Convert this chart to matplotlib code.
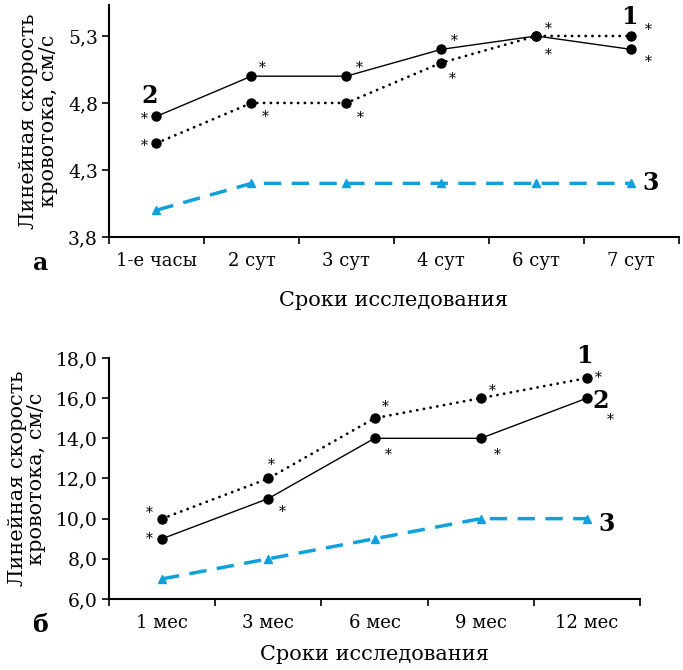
import matplotlib
matplotlib.use('Agg')
import matplotlib.pyplot as plt

plt.rcParams['font.family'] = ['DejaVu Serif']

# panel a data
cats_a = ['1-е часы', '2 сут', '3 сут', '4 сут', '6 сут', '7 сут']
s1_a = [4.5, 4.8, 4.8, 5.1, 5.3, 5.3]
s2_a = [4.7, 5.0, 5.0, 5.2, 5.3, 5.2]
s3_a = [4.0, 4.2, 4.2, 4.2, 4.2, 4.2]
yt_a = [3.8, 4.3, 4.8, 5.3]

# panel b data
cats_b = ['1 мес', '3 мес', '6 мес', '9 мес', '12 мес']
s1_b = [10, 12, 15, 16, 17]
s2_b = [9, 11, 14, 14, 16]
s3_b = [7, 8, 9, 10, 10]
yt_b = [6, 8, 10, 12, 14, 16, 18]

blue = '#10a0dc'
ylab = 'Линейная скорость\nкровотока, см/с'
xlab = 'Сроки исследования'

fig = plt.figure(figsize=(6.83, 6.70), dpi=100)


def panel(ax, cats, s1, s2, s3, yt, ylim, xpad):
    x = list(range(len(cats)))
    ax.plot(x, s1, color='black', linestyle=(0, (0.05, 2.4)), lw=2.0,
            dash_capstyle='round', zorder=3)
    ax.plot(x, s1, color='black', lw=0, marker='o', ms=6.5, zorder=4)
    ax.plot(x, s2, color='black', lw=1.0, marker='o', ms=6.5, zorder=3)
    ax.plot(x, s3, color=blue, lw=2.5, linestyle=(0, (5, 3)),
            marker='^', ms=6, zorder=2)
    ax.set_xlim(-0.5, len(cats) - 0.5)
    ax.set_ylim(*ylim)
    ax.spines['top'].set_visible(False)
    ax.spines['right'].set_visible(False)
    ax.spines['left'].set_linewidth(1.5)
    ax.spines['bottom'].set_linewidth(1.5)
    ax.set_yticks(yt)
    ax.set_yticklabels([('%.1f' % v).replace('.', ',') for v in yt], fontsize=13.5)
    ax.set_xticks([i - 0.5 for i in range(len(cats) + 1)])
    ax.set_xticklabels([])
    ax.set_xticks(x, minor=True)
    ax.set_xticklabels(cats, minor=True, fontsize=13)
    ax.tick_params(axis='x', which='major', length=5, width=1.2, direction='out')
    ax.tick_params(axis='x', which='minor', length=0, pad=11)
    ax.tick_params(axis='y', length=5, width=1.2, direction='out', pad=3)
    ax.set_ylabel(ylab, fontsize=15, labelpad=7, linespacing=1.05)
    ax.set_xlabel(xlab, fontsize=15, labelpad=xpad)


def star(ax, x, y, dx, dy):
    ax.annotate('*', (x, y), xytext=(dx, dy), textcoords='offset points',
                ha='center', va='center', fontsize=10)


def num(ax, t, x, y, dx, dy):
    ax.annotate(t, (x, y), xytext=(dx, dy), textcoords='offset points',
                ha='center', va='center', fontsize=17, fontweight='bold')


# panel a
ax1 = fig.add_axes([0.1596, 0.6463, 0.834, 0.346])
panel(ax1, cats_a, s1_a, s2_a, s3_a, yt_a, (3.8, 5.53), 15)
offs1_a = [(-9, -2), (10, -10), (10, -11), (8, -12), (9, -14), (12, 4)]
offs2_a = [(-9, -2), (8, 6), (9, 6), (9, 6), (9, 5), (12, -9)]
for i in range(len(cats_a)):
    star(ax1, i, s1_a[i], *offs1_a[i])
    star(ax1, i, s2_a[i], *offs2_a[i])
num(ax1, '1', 5, s1_a[5], -1, 14)
num(ax1, '2', 0, s2_a[0], -5, 15)
num(ax1, '3', 5, s3_a[5], 14, 0)
fig.text(0.060, 0.607, 'а', fontsize=17, fontweight='bold', ha='center', va='center')

# panel b
ax2 = fig.add_axes([0.1596, 0.106, 0.7775, 0.3597])
panel(ax2, cats_b, s1_b, s2_b, s3_b, yt_b, (6, 18), 9)
offs1_b = [(-9, 4), (2, 10), (8, 8), (8, 5), (8, 0)]
offs2_b = [(-9, 0), (10, -10), (10, -12), (12, -12), (17, -16)]
for i in range(len(cats_b)):
    star(ax2, i, s1_b[i], *offs1_b[i])
    star(ax2, i, s2_b[i], *offs2_b[i])
num(ax2, '1', 4, s1_b[4], -2, 16)
num(ax2, '2', 4, s2_b[4], 10, -2)
num(ax2, '3', 4, s3_b[4], 14, -4)
fig.text(0.060, 0.067, 'б', fontsize=17, fontweight='bold', ha='center', va='center')

fig.savefig('out.png', dpi=100)
